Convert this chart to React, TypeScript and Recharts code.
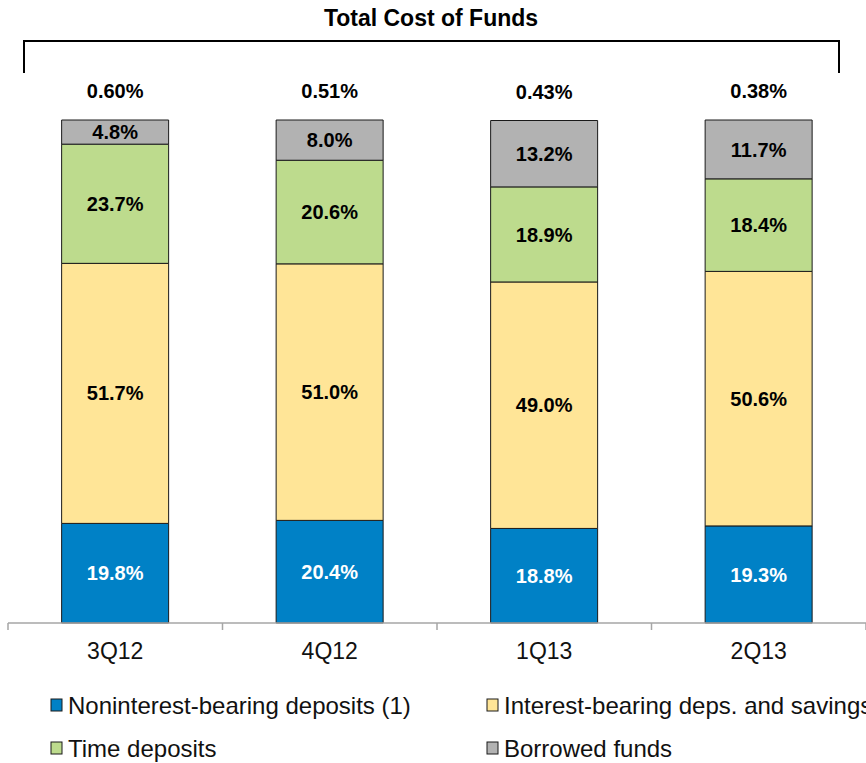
import { BarChart, Bar, XAxis, YAxis, LabelList, Legend, Customized } from "recharts";

const quarters = ["3Q12", "4Q12", "1Q13", "2Q13"];
const totalCost = ["0.60%", "0.51%", "0.43%", "0.38%"];
const noninterest = [19.8, 20.4, 18.8, 19.3];
const interestBearing = [51.7, 51.0, 49.0, 50.6];
const timeDeposits = [23.7, 20.6, 18.9, 18.4];
const borrowed = [4.8, 8.0, 13.2, 11.7];

const seriesNames = [
  "Noninterest-bearing deposits (1)",
  "Interest-bearing deps. and savings",
  "Time deposits",
  "Borrowed funds",
];

const data = quarters.map((q, i) => ({
  quarter: q,
  total: totalCost[i],
  noninterest: noninterest[i],
  interestBearing: interestBearing[i],
  timeDeposits: timeDeposits[i],
  borrowed: borrowed[i],
}));

const FONT = '"Liberation Sans", Arial, sans-serif';
const W = 866;
const H = 763;
const MARGIN = { top: 120, right: 0, bottom: 100, left: 8 };
const AXIS_COLOR = "#A6A6A6";
const BORDER = "#1a1a1a";

const pct = (v: number) => `${v.toFixed(1)}%`;

const CategoryTick = (props: any) => {
  const { x, y, payload, index } = props;
  const plotW = W - MARGIN.left - MARGIN.right;
  const half = payload?.offset || plotW / (2 * quarters.length);
  return (
    <g>
      <line x1={x - half} x2={x - half} y1={y} y2={y + 7} stroke={AXIS_COLOR} strokeWidth={1.5} />
      {index === quarters.length - 1 && (
        <line x1={x + half} x2={x + half} y1={y} y2={y + 7} stroke={AXIS_COLOR} strokeWidth={1.5} />
      )}
      <text x={x} y={y + 36} textAnchor="middle" fontSize={23} fill="#111" fontFamily={FONT}>
        {payload.value}
      </text>
    </g>
  );
};

const TotalLabel = (props: any) => {
  const { x, y, width, value } = props;
  return (
    <text x={x + width / 2} y={y - 22} textAnchor="middle" fontSize={20} fontWeight="bold" fill="#000" fontFamily={FONT}>
      {value}
    </text>
  );
};

const Title = () => (
  <g>
    <text x={431} y={26} textAnchor="middle" fontSize={23} fontWeight="bold" fill="#000" fontFamily={FONT}>
      Total Cost of Funds
    </text>
    <path d="M24,73 L24,41 L839,41 L839,73" fill="none" stroke="#000" strokeWidth={2} />
  </g>
);

const LegendContent = (props: any) => {
  const items = [...(props.payload || [])].sort(
    (a: any, b: any) => seriesNames.indexOf(a.value) - seriesNames.indexOf(b.value)
  );
  return (
    <svg width={W} height={78} style={{ display: "block", overflow: "visible" }}>
      {items.map((item: any, i: number) => {
        const col = i % 2;
        const row = Math.floor(i / 2);
        const sx = col === 0 ? 51 : 487;
        const cy = 20 + row * 43;
        return (
          <g key={item.value}>
            <rect x={sx} y={cy - 6} width={11} height={12} fill={item.color} stroke={BORDER} strokeWidth={1} />
            <text x={sx + 17} y={cy + 8.5} fontSize={24} fill="#111" fontFamily={FONT}>
              {item.value}
            </text>
          </g>
        );
      })}
    </svg>
  );
};

export default function App() {
  return (
    <div style={{ position: "absolute", left: 0, top: 0, width: W, height: H, background: "#fff", overflow: "hidden" }}>
      <BarChart width={W} height={H} data={data} margin={MARGIN} barCategoryGap="25%">
        <XAxis
          dataKey="quarter"
          axisLine={{ stroke: AXIS_COLOR, strokeWidth: 1.5 }}
          tickLine={false}
          tickSize={0}
          tickMargin={0}
          height={40}
          tick={<CategoryTick />}
          interval={0}
        />
        <YAxis hide domain={[0, 100]} />
        <Legend
          layout="vertical"
          align="center"
          verticalAlign="middle"
          wrapperStyle={{ top: 685, left: 0, width: W, height: 78 }}
          content={<LegendContent />}
        />
        <Bar dataKey="noninterest" name={seriesNames[0]} stackId="a" fill="#0081C6" stroke={BORDER} strokeWidth={1} isAnimationActive={false}>
          <LabelList dataKey="noninterest" position="center" formatter={pct} fill="#fff" fontSize={20} fontWeight="bold" fontFamily={FONT} />
        </Bar>
        <Bar dataKey="interestBearing" name={seriesNames[1]} stackId="a" fill="#FFE597" stroke={BORDER} strokeWidth={1} isAnimationActive={false}>
          <LabelList dataKey="interestBearing" position="center" formatter={pct} fill="#000" fontSize={20} fontWeight="bold" fontFamily={FONT} />
        </Bar>
        <Bar dataKey="timeDeposits" name={seriesNames[2]} stackId="a" fill="#BDDB8D" stroke={BORDER} strokeWidth={1} isAnimationActive={false}>
          <LabelList dataKey="timeDeposits" position="center" formatter={pct} fill="#000" fontSize={20} fontWeight="bold" fontFamily={FONT} />
        </Bar>
        <Bar dataKey="borrowed" name={seriesNames[3]} stackId="a" fill="#B2B2B2" stroke={BORDER} strokeWidth={1} isAnimationActive={false}>
          <LabelList dataKey="borrowed" position="center" formatter={pct} fill="#000" fontSize={20} fontWeight="bold" fontFamily={FONT} />
          <LabelList dataKey="total" content={<TotalLabel />} />
        </Bar>
        <Customized component={<Title />} />
      </BarChart>
    </div>
  );
}
